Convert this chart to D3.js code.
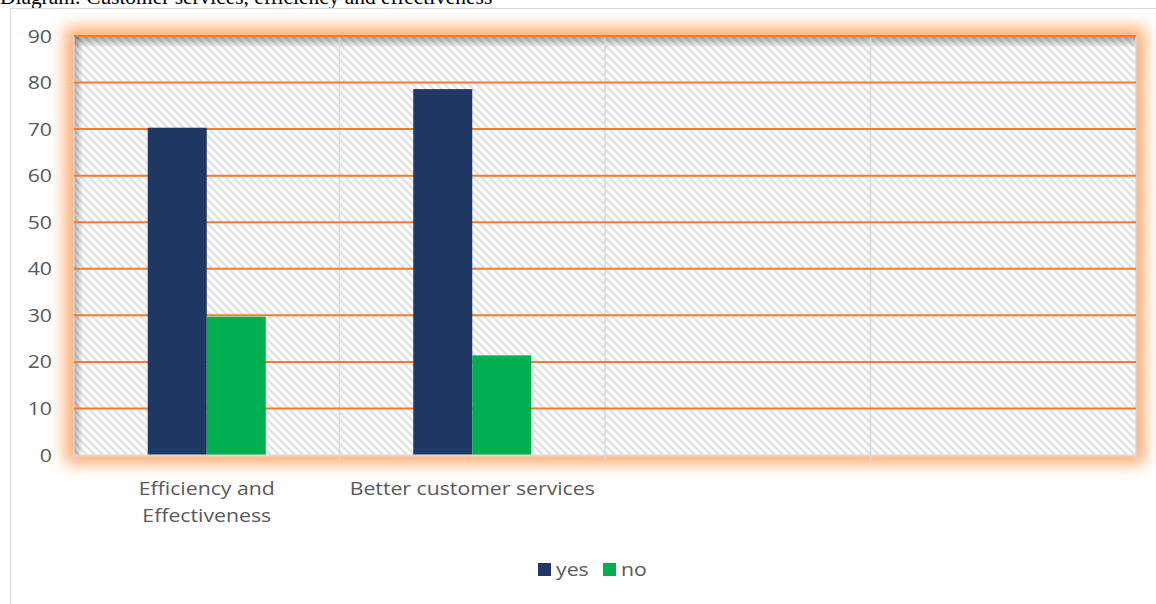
<!DOCTYPE html>
<meta charset="utf-8">
<head>
  <title>Customer services, efficiency and effectiveness</title>
  <style>
    body { margin: 0; background: #fff; }
    .tick-label { font: 18px "Open Sans", sans-serif; fill: #595959; }
    .title { font: 20px "Liberation Serif", "Times New Roman", serif; fill: #000; }
  </style>
</head>
<body>
  <svg width="1156" height="604"></svg>
  <script src="https://d3js.org/d3.v7.min.js"></script>
  <script>
    var categories = ["Efficiency and|Effectiveness", "Better customer services", "", ""];
    var seriesNames = ["yes", "no"];
    var yesValues = [70.3, 78.6];
    var noValues = [29.7, 21.4];
    var yTicks = [0, 10, 20, 30, 40, 50, 60, 70, 80, 90];
    var colors = { yes: "#203864", no: "#00b050" };

    var svg = d3.select("svg");
    var m = { left: 74, right: 1136, top: 36, bottom: 455 };
    var sx = 1.18; // source picture is stretched sideways

    var defs = svg.append("defs");

    var pat = defs.append("pattern")
        .attr("id", "hatch")
        .attr("patternUnits", "userSpaceOnUse")
        .attr("width", 8).attr("height", 8);
    pat.append("rect").attr("width", 8).attr("height", 8).attr("fill", "#fff");
    pat.append("path")
        .attr("d", "M0,0L8,8M-2,6L2,10M6,-2L10,2")
        .attr("stroke", "#e2e2e2")
        .attr("stroke-width", 2.6);

    var glow = defs.append("filter").attr("id", "glow")
        .attr("x", "-10%").attr("y", "-20%").attr("width", "120%").attr("height", "140%");
    glow.append("feGaussianBlur").attr("stdDeviation", 8);

    var gTop = defs.append("linearGradient").attr("id", "shTop")
        .attr("x1", 0).attr("y1", 0).attr("x2", 0).attr("y2", 1);
    gTop.append("stop").attr("offset", 0).attr("stop-color", "#000").attr("stop-opacity", 0.35);
    gTop.append("stop").attr("offset", 1).attr("stop-color", "#000").attr("stop-opacity", 0);
    var gLeft = defs.append("linearGradient").attr("id", "shLeft")
        .attr("x1", 0).attr("y1", 0).attr("x2", 1).attr("y2", 0);
    gLeft.append("stop").attr("offset", 0).attr("stop-color", "#000").attr("stop-opacity", 0.3);
    gLeft.append("stop").attr("offset", 1).attr("stop-color", "#000").attr("stop-opacity", 0);

    // title (cut at the top like in the source document)
    svg.append("text").attr("class", "title")
        .attr("transform", "translate(0,4) scale(1.07,1)")
        .text("Diagram: Customer services, efficiency and effectiveness");

    // chart frame
    svg.append("rect")
        .attr("x", 10.5).attr("y", 8.5)
        .attr("width", 1160).attr("height", 620)
        .attr("fill", "none").attr("stroke", "#d9d9d9");

    var x = d3.scaleBand()
        .domain(d3.range(categories.length))
        .range([m.left, m.right]);
    var x1 = d3.scaleBand()
        .domain(seriesNames)
        .range([0, x.bandwidth()])
        .paddingOuter(1.25);
    var y = d3.scaleLinear().domain([0, 90]).range([m.bottom, m.top]);

    // orange glow around plot area
    svg.append("rect")
        .attr("x", m.left - 9).attr("y", m.top - 9)
        .attr("width", m.right - m.left + 18).attr("height", m.bottom - m.top + 18)
        .attr("fill", "#ffab70")
        .attr("filter", "url(#glow)");

    svg.append("rect")
        .attr("x", m.left).attr("y", m.top)
        .attr("width", m.right - m.left).attr("height", m.bottom - m.top)
        .attr("fill", "url(#hatch)");
    svg.append("rect")
        .attr("x", m.left).attr("y", m.top)
        .attr("width", m.right - m.left).attr("height", 12)
        .attr("fill", "url(#shTop)");
    svg.append("rect")
        .attr("x", m.left).attr("y", m.top)
        .attr("width", 9).attr("height", m.bottom - m.top)
        .attr("fill", "url(#shLeft)");

    // category separators
    svg.append("g").selectAll("line")
        .data(d3.range(categories.length + 1))
        .join("line")
        .attr("x1", function(i) { return i < categories.length ? x(i) : m.right; })
        .attr("x2", function(i) { return i < categories.length ? x(i) : m.right; })
        .attr("y1", m.top).attr("y2", m.bottom + 6)
        .attr("stroke", "#d9d9d9").attr("stroke-width", 1.5);

    // gridlines
    svg.append("g").selectAll("line")
        .data(yTicks.filter(function(t) { return t > 0; }))
        .join("line")
        .attr("x1", m.left).attr("x2", m.right)
        .attr("y1", function(d) { return y(d); })
        .attr("y2", function(d) { return y(d); })
        .attr("stroke", "#ed7d31").attr("stroke-width", 2);

    // bars
    var rows = categories.map(function(c, i) {
      return { i: i, yes: yesValues[i], no: noValues[i] };
    }).filter(function(r) { return r.yes != null; });

    svg.append("g").selectAll("g")
        .data(rows)
        .join("g")
        .attr("transform", function(d) { return "translate(" + x(d.i) + ",0)"; })
        .selectAll("rect")
        .data(function(d) { return seriesNames.map(function(s) { return { s: s, v: d[s] }; }); })
        .join("rect")
        .attr("x", function(d) { return x1(d.s); })
        .attr("width", x1.bandwidth())
        .attr("y", function(d) { return y(d.v); })
        .attr("height", function(d) { return y(0) - y(d.v); })
        .attr("fill", function(d) { return colors[d.s]; });

    // x axis line
    svg.append("line")
        .attr("x1", m.left).attr("x2", m.right)
        .attr("y1", m.bottom + 0.5).attr("y2", m.bottom + 0.5)
        .attr("stroke", "#d9d9d9").attr("stroke-width", 2);

    // y labels
    svg.append("g").selectAll("text")
        .data(yTicks)
        .join("text")
        .attr("class", "tick-label")
        .attr("text-anchor", "end")
        .attr("transform", function(d) { return "translate(52," + (y(d) + 6.5) + ") scale(" + sx + ",1)"; })
        .text(function(d) { return d; });

    // x labels
    var xl = svg.append("g").selectAll("text")
        .data(categories.map(function(c, i) { return { c: c, i: i }; }))
        .join("text")
        .attr("class", "tick-label")
        .attr("text-anchor", "middle")
        .attr("transform", function(d) { return "translate(" + (x(d.i) + x.bandwidth() / 2) + ",495) scale(" + sx + ",1)"; });
    xl.selectAll("tspan")
        .data(function(d) { return d.c ? d.c.split("|") : []; })
        .join("tspan")
        .attr("x", 0)
        .attr("dy", function(d, j) { return j ? 27 : 0; })
        .text(function(d) { return d; });

    // legend
    var leg = svg.append("g").selectAll("g")
        .data(seriesNames)
        .join("g")
        .attr("transform", function(d, i) { return "translate(" + (538 + i * 65) + ",563)"; });
    leg.append("rect").attr("width", 13).attr("height", 13)
        .attr("fill", function(d) { return colors[d]; });
    leg.append("text").attr("class", "tick-label")
        .attr("transform", "translate(18,13) scale(" + sx + ",1)")
        .text(function(d) { return d; });
  </script>
</body>
</html>
